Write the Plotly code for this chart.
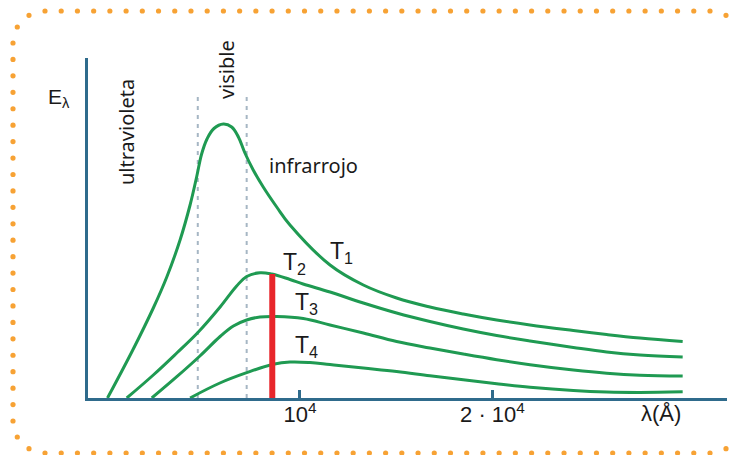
import math
import plotly.graph_objects as go

# ---------------- data ----------------
# wavelength in Angstrom, spectral emittance in arbitrary units
lam_T1 = [0, 1340, 2380, 3080, 3770, 4290, 4630, 4890, 5170, 5530, 6020, 6450, 6800, 7140,
          7570, 8090, 8790, 9480, 11560, 13290, 15020, 16750, 18480, 20220, 21950, 24200,
          25930, 27660, 29880]
E_T1 = [0, 49, 90, 121, 158, 193, 221, 244, 259, 269.5, 274, 271, 261, 245,
        228, 211, 191, 173, 133, 113, 100, 91, 84, 78, 73, 67.5, 63.5, 60, 56.5]

lam_T2 = [1000, 2380, 3600, 4720, 5850, 6710, 7230, 7920, 8530, 9480, 10160, 11560, 13290,
          15020, 16750, 18480, 20220, 21950, 24200, 25930, 27660, 29880]
E_T2 = [0, 23, 45, 66, 91, 112, 121.5, 125.3, 124, 118.5, 114, 106, 95,
        85, 76.5, 69, 62.5, 57, 50.5, 46, 43, 41]

lam_T3 = [2300, 3600, 4800, 5850, 6540, 7230, 7920, 8790, 10170, 11560, 13290, 15020, 16750,
          18480, 20220, 21950, 24200, 25930, 27660, 29880]
E_T3 = [0, 21.3, 42, 61.5, 72, 78, 81, 81.5, 79.5, 73, 65, 56.5, 50,
        44, 38.3, 33.3, 28, 24.8, 22.8, 22]

lam_T4 = [4290, 5840, 7230, 8610, 9480, 10520, 11560, 13290, 15020, 16750, 18480, 20220, 21950,
          24200, 25930, 27660, 29880]
E_T4 = [0, 15, 25.3, 33.7, 36, 35.5, 33.5, 30, 26.5, 22.3, 18.3, 14.3, 10.8, 7.5, 6, 5.6, 6.2]

series_names = ["T<sub>1</sub>", "T<sub>2</sub>", "T<sub>3</sub>", "T<sub>4</sub>"]
series_lam = [lam_T1, lam_T2, lam_T3, lam_T4]
series_E = [E_T1, E_T2, E_T3, E_T4]
label_lam = [12180, 9690, 10340, 10340]
label_E = [146, 135, 95, 52]

# visible band limits (dashed lines)
visible_lam = [4690, 7230]
visible_top = 303

# red marker bar
bar_lam = [8560, 8560]
bar_E = [0, 124]

tick_vals = [10000, 20000]
tick_text = ["10<sup>4</sup>", "2 · 10<sup>4</sup>"]

x_range = [-1013, 32183]
y_range = [0, 340]

# ---------------- style ----------------
W, H = 735, 455
ML, MR, MT, MB = 88, 8, 58, 57
AXIS = "#2f6b8c"
GREEN = "#1f9a52"
RED = "#e8262b"
DASH = "#a6b6c4"
ORANGE = "#f7a234"
TXT = "#1a1a1a"
NUM_FONT = "Liberation Sans, Arial, sans-serif"
LBL_FONT = "Noto Sans, DejaVu Sans, sans-serif"


def px2paper(px, py):
    return (px - ML) / (W - ML - MR), (H - MB - py) / (H - MT - MB)


fig = go.Figure()

for lv in visible_lam:
    fig.add_trace(go.Scatter(x=[lv, lv], y=[0, visible_top], mode="lines",
                             line=dict(color=DASH, width=2, dash="4px,5px"),
                             hoverinfo="skip", showlegend=False))

for name, lx, ey in zip(series_names, series_lam, series_E):
    fig.add_trace(go.Scatter(x=lx, y=ey, mode="lines", name=name,
                             line=dict(color=GREEN, width=3, shape="spline", smoothing=1.1),
                             hoverinfo="skip", showlegend=False))

fig.add_trace(go.Scatter(x=bar_lam, y=bar_E, mode="lines",
                         line=dict(color=RED, width=6), hoverinfo="skip", showlegend=False))

# ---------------- annotations ----------------
ann = []
for name, lx, ey in zip(series_names, label_lam, label_E):
    ann.append(dict(x=lx, y=ey, text=name, showarrow=False,
                    xanchor="center", yanchor="middle",
                    font=dict(family=NUM_FONT, size=23, color=TXT)))

ann.append(dict(x=961, y=266, text="ultravioleta", textangle=-90, showarrow=False,
                xanchor="center", yanchor="middle",
                font=dict(family=LBL_FONT, size=20, color=TXT)))
ann.append(dict(x=6160, y=328, text="visible", textangle=-90, showarrow=False,
                xanchor="center", yanchor="middle",
                font=dict(family=LBL_FONT, size=20, color=TXT)))
ann.append(dict(x=10690, y=233, text="infrarrojo", showarrow=False,
                xanchor="center", yanchor="middle",
                font=dict(family=LBL_FONT, size=20, color=TXT)))

ex, ey_ = px2paper(58.5, 98)
ann.append(dict(x=ex, y=ey_, xref="paper", yref="paper", text="E<sub>λ</sub>", showarrow=False,
                xanchor="center", yanchor="middle",
                font=dict(family=NUM_FONT, size=21, color=TXT)))
lx_, ly_ = px2paper(661, 413)
ann.append(dict(x=lx_, y=ly_, xref="paper", yref="paper", text="λ(Å)", showarrow=False,
                xanchor="center", yanchor="middle",
                font=dict(family=NUM_FONT, size=22, color=TXT)))

# ---------------- dotted rounded frame (decoration) ----------------
fx0, fx1, fy0, fy1, rad = 13, 742, 11, 453, 32
dots = []


def side(x0, y0, x1, y1, step=16.2):
    n = max(1, round(math.hypot(x1 - x0, y1 - y0) / step))
    for i in range(n + 1):
        dots.append((x0 + (x1 - x0) * i / n, y0 + (y1 - y0) * i / n))


side(fx0 + rad, fy0, fx1 - rad, fy0)
side(fx0 + rad, fy1, fx1 - rad, fy1)
side(fx0, fy0 + rad, fx0, fy1 - rad)
side(fx1, fy0 + rad, fx1, fy1 - rad)
for cx, cy, a0 in [(fx0 + rad, fy0 + rad, 180), (fx1 - rad, fy0 + rad, 270),
                   (fx1 - rad, fy1 - rad, 0), (fx0 + rad, fy1 - rad, 90)]:
    for k in (1, 2):
        a = math.radians(a0 + 30 * k)
        dots.append((cx + rad * math.cos(a), cy + rad * math.sin(a)))

shapes = []
r = 2.6
for (dx, dy) in dots:
    xa, ya = px2paper(dx - r, dy + r)
    xb, yb = px2paper(dx + r, dy - r)
    shapes.append(dict(type="circle", xref="paper", yref="paper", x0=xa, y0=ya, x1=xb, y1=yb,
                       fillcolor=ORANGE, line=dict(width=0), layer="above"))

fig.update_layout(
    width=W, height=H,
    margin=dict(l=ML, r=MR, t=MT, b=MB),
    paper_bgcolor="white", plot_bgcolor="white",
    showlegend=False, hovermode=False,
    annotations=ann, shapes=shapes,
    xaxis=dict(range=x_range, showgrid=False, zeroline=False, showline=True,
               linecolor=AXIS, linewidth=3, ticks="inside", ticklen=8, tickwidth=3,
               tickcolor=AXIS, tickvals=tick_vals, ticktext=tick_text,
               ticklabelstandoff=-5,
               tickfont=dict(family=NUM_FONT, size=22, color=TXT)),
    yaxis=dict(range=y_range, showgrid=False, zeroline=False, showline=True,
               linecolor=AXIS, linewidth=3, showticklabels=False, ticks=""),
)

fig.write_html("out.html", config={"displayModeBar": False},
               post_script="document.body.style.margin='0';")
